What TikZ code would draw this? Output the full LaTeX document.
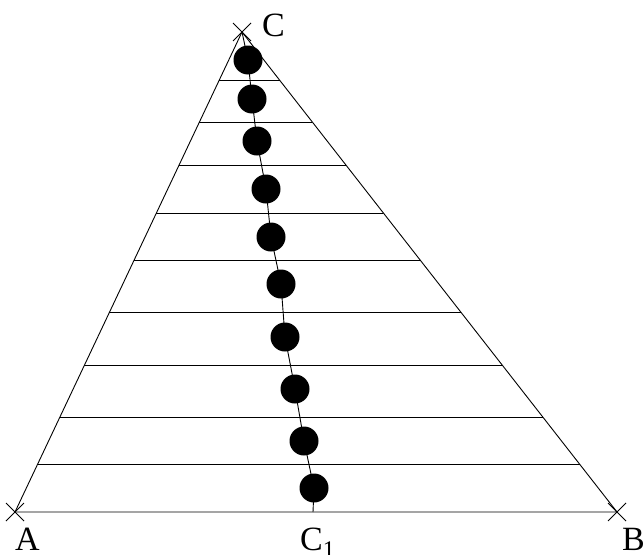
\documentclass[tikz,border=0pt]{standalone}
\usepackage{fontspec}
\setmainfont{Liberation Serif}
\usetikzlibrary{calc}
\tikzset{
  edge/.style={line width=0.9pt},
  level/.style={line width=0.9pt},
  bead/.style={circle, fill=black, minimum size=29pt, inner sep=0pt},
  vlbl/.style={font=\fontsize{34}{40}\selectfont, inner sep=0pt, text depth=0pt, anchor=base west},
  xmark/.pic={\draw[line width=0.9pt] (-9,-9) -- (9,9) (-9,9) -- (9,-9);}}

\begin{document}
\begin{tikzpicture}[x=1pt,y=-1pt]
  \useasboundingbox (0,0) rectangle (644,554);
  % vertices
  \coordinate (A) at (15,512);
  \coordinate (B) at (617,512);
  \coordinate (C) at (242,32);
  \coordinate (C1) at (313,512);
  % triangle
  \draw[edge] (A) -- (B) -- (C) -- cycle;
  % horizontal levels
  \foreach \t in {0.1,0.198,0.306,0.415,0.525,0.623,0.723,0.8125,0.9}
    \draw[level] ($(A)!\t!(C)$) -- ($(B)!\t!(C)$);
  % beads on the median
  \foreach \x/\y [count=\i] in {248/60,252/99,257/141,266/189,271/237,
                                281/284,285/337,295/389,304/441,314/488}
    \node[bead] (d\i) at (\x,\y) {};
  \draw[edge] (C) -- (d1.center) -- (d2.center) -- (d3.center) -- (d4.center)
    -- (d5.center) -- (d6.center) -- (d7.center) -- (d8.center) -- (d9.center)
    -- (d10.center) -- (C1);
  % vertex marks and labels
  \pic at (A) {xmark};
  \pic at (B) {xmark};
  \pic at (C) {xmark};
  \node[vlbl] (lA) at (15,550) {A};
  \node[vlbl] (lB) at (622,550) {B};
  \node[vlbl] (lC) at (262,36) {C};
  \node[vlbl] (lC1) at (300,550) {C\textsubscript{1}};
\end{tikzpicture}
\end{document}
